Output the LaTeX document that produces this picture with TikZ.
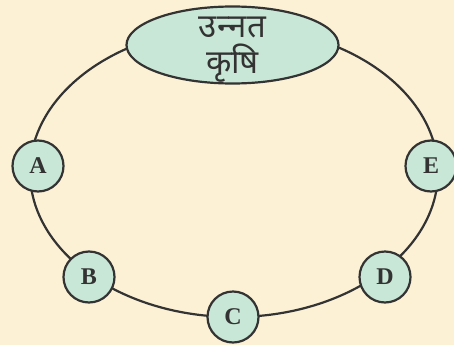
\documentclass[tikz,border=0pt]{standalone}
\usepackage{fontspec}
\setmainfont{Liberation Serif}
\newfontfamily\devfont[Script=Devanagari]{Noto Sans}
\usetikzlibrary{shapes.geometric}
\definecolor{paper}{HTML}{FCF1D5}
\definecolor{leaf}{HTML}{C9E7D6}
\definecolor{ink}{HTML}{333333}

\begin{document}
\begin{tikzpicture}[x=1pt, y=-1pt, every node/.style={circle, draw=ink, fill=leaf, line width=2.2pt, minimum size=51pt, inner sep=0pt, text=ink, font=\fontsize{24}{24}\selectfont\bfseries}]
        \useasboundingbox[fill=paper] (0,0) rectangle (454,345);
        \coordinate (ring) at (234,172);
        \draw[ink, line width=2.2pt] (ring) ellipse [x radius=204, y radius=145];
        \node[ellipse, minimum width=212pt, minimum height=77pt, font=\devfont\fontsize{33}{35}\selectfont] (farm) at (232.5,45)
            {\raisebox{-10pt}[0pt][0pt]{\begin{tabular}{@{}c@{}}उन्^^^^200dनत\\[-4pt]कृषि\end{tabular}}};
        \node (A) at (38,166) {A};
        \node (B) at (89,277) {B};
        \node (C) at (233,317) {C};
        \node (D) at (385,277) {D};
        \node (E) at (431,166) {E};
    \end{tikzpicture}
\end{document}
